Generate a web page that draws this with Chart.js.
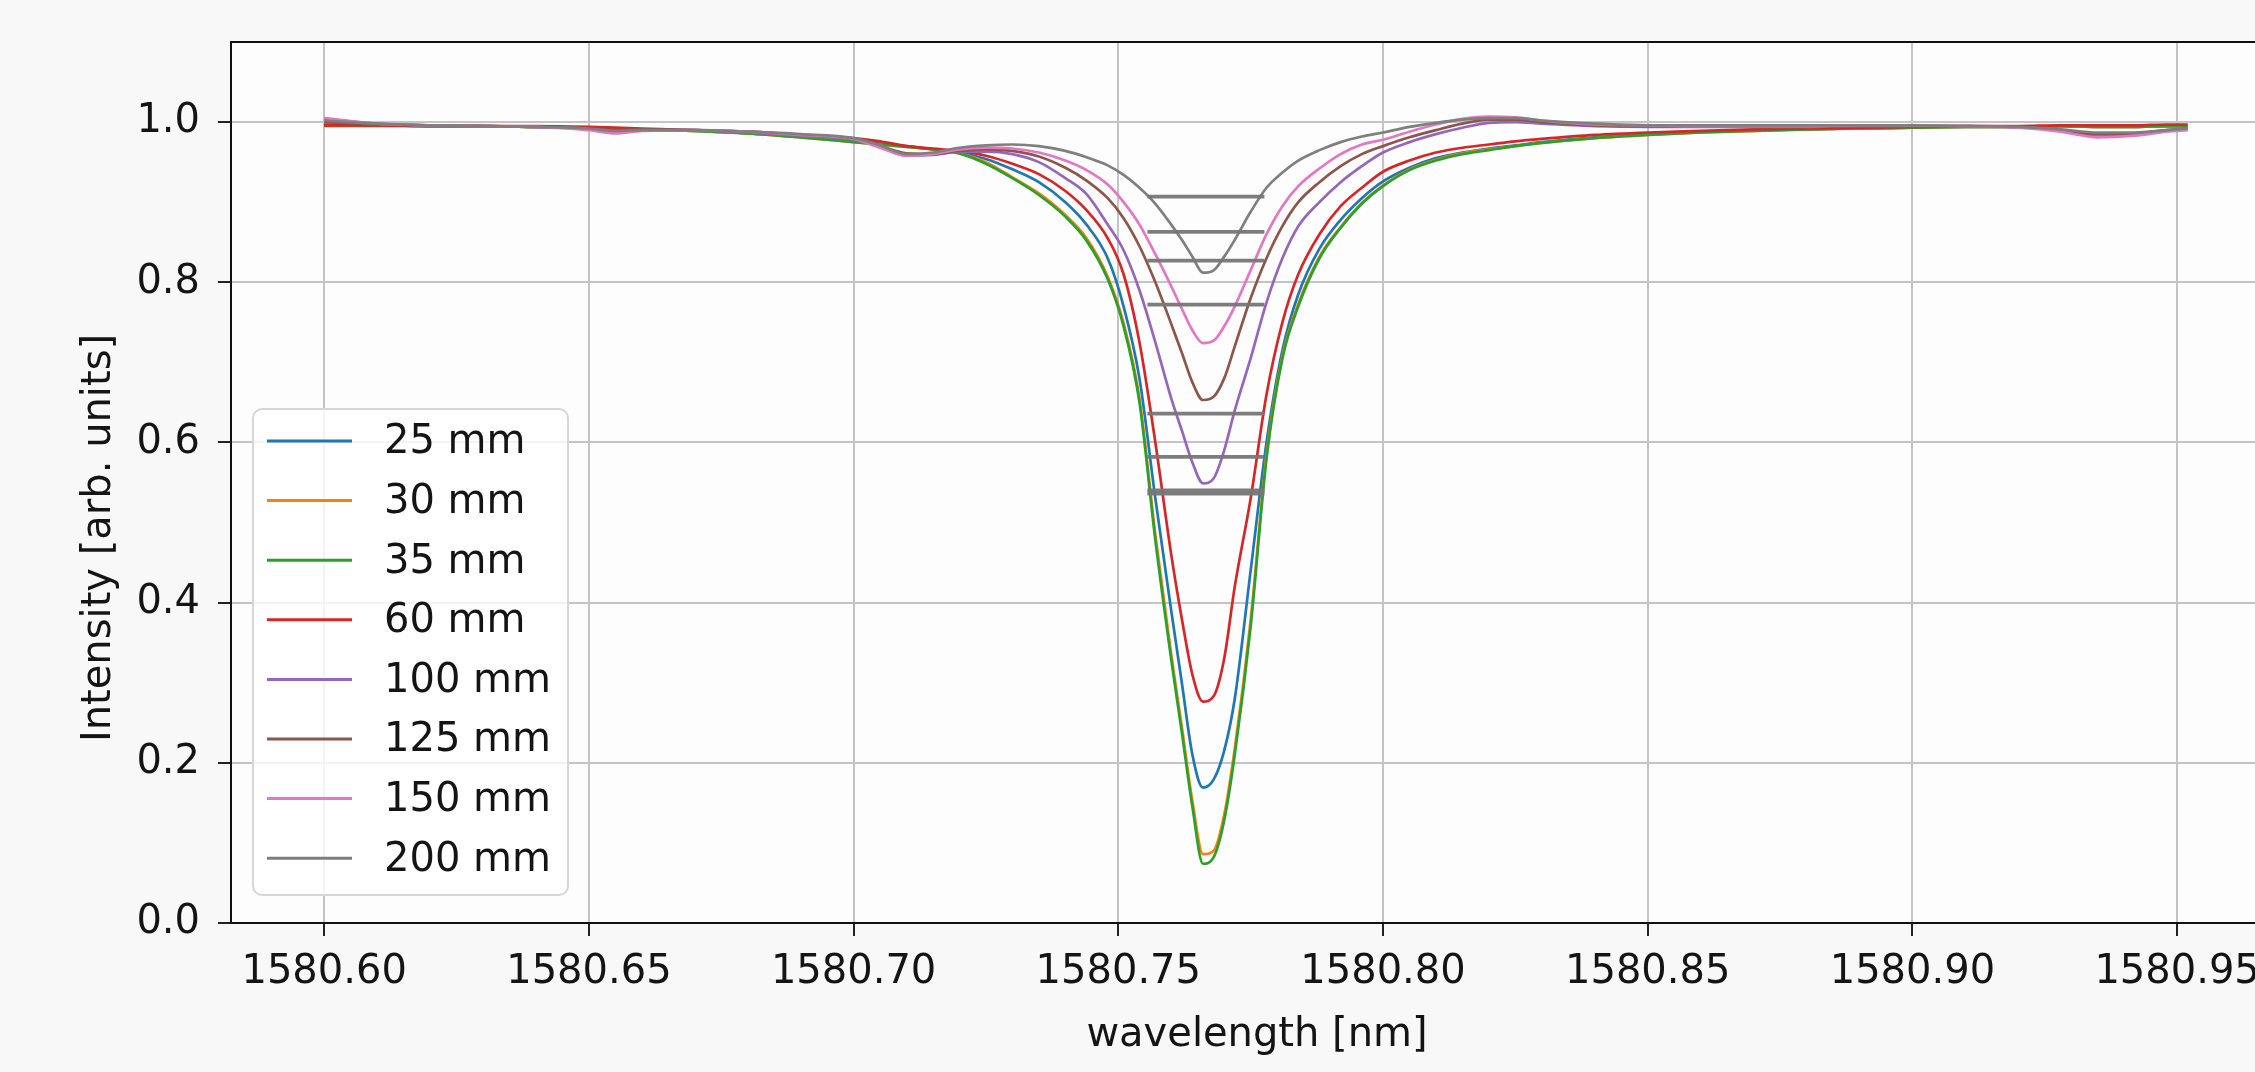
<!DOCTYPE html>
<html>
<head>
<meta charset="utf-8">
<script src="https://cdn.jsdelivr.net/npm/chart.js@4.4.1/dist/chart.umd.min.js"></script>
<style>
  html, body { margin: 0; padding: 0; background: #f8f8f8; overflow: hidden; width: 2255px; height: 1072px; }
  #wrap { position: absolute; left: 0; top: 0; }
</style>
</head>
<body>
<div id="wrap"><canvas id="c" width="2330" height="1072"></canvas></div>
<script>
// ---------- data ----------
const wavelength = [1580.600,1580.610,1580.620,1580.630,1580.640,1580.650,1580.655,1580.660,1580.670,1580.680,
  1580.690,1580.700,1580.705,1580.710,1580.715,1580.720,1580.725,1580.730,1580.735,1580.740,
  1580.744,1580.748,1580.751,1580.754,1580.757,1580.760,1580.762,1580.764,1580.766,1580.768,
  1580.770,1580.772,1580.775,1580.778,1580.781,1580.784,1580.788,1580.792,1580.796,1580.800,
  1580.805,1580.810,1580.815,1580.820,1580.825,1580.830,1580.840,1580.850,1580.860,1580.870,
  1580.880,1580.890,1580.900,1580.910,1580.920,1580.928,1580.935,1580.942,1580.948,1580.952];

const seriesLabels = ['25 mm','30 mm','35 mm','60 mm','100 mm','125 mm','150 mm','200 mm'];
const seriesColors = ['#1f77b4','#ff7f0e','#2ca02c','#d62728','#9467bd','#8c564b','#e377c2','#7f7f7f'];

const i25 = [0.997,0.996,0.996,0.995,0.994,0.993,0.992,0.991,0.989,0.986,
  0.982,0.976,0.973,0.970,0.966,0.962,0.954,0.941,0.925,0.900,
  0.872,0.830,0.770,0.680,0.530,0.390,0.300,0.210,0.169,0.179,
  0.215,0.280,0.440,0.600,0.715,0.785,0.842,0.878,0.905,0.926,
  0.943,0.955,0.962,0.967,0.971,0.975,0.981,0.985,0.988,0.990,
  0.991,0.992,0.993,0.994,0.994,0.995,0.994,0.994,0.995,0.995];
const i30 = [0.995,0.995,0.995,0.995,0.994,0.993,0.992,0.991,0.989,0.986,
  0.981,0.975,0.972,0.969,0.966,0.961,0.950,0.931,0.911,0.884,
  0.855,0.807,0.749,0.655,0.485,0.335,0.245,0.152,0.086,0.090,
  0.135,0.218,0.378,0.585,0.708,0.773,0.832,0.869,0.899,0.921,
  0.941,0.953,0.961,0.966,0.970,0.974,0.980,0.984,0.987,0.989,
  0.991,0.992,0.993,0.994,0.994,0.995,0.994,0.994,0.995,0.995];
const i35 = [0.996,0.996,0.995,0.995,0.994,0.993,0.992,0.991,0.989,0.986,
  0.981,0.975,0.972,0.969,0.966,0.961,0.948,0.930,0.909,0.882,
  0.852,0.804,0.745,0.650,0.478,0.329,0.238,0.145,0.074,0.082,
  0.128,0.210,0.370,0.580,0.705,0.770,0.830,0.868,0.898,0.920,
  0.940,0.952,0.960,0.965,0.970,0.974,0.980,0.984,0.987,0.989,
  0.991,0.992,0.993,0.994,0.994,0.995,0.994,0.994,0.995,0.995];
const i60 = [0.996,0.996,0.995,0.995,0.995,0.994,0.993,0.992,0.990,0.988,
  0.984,0.980,0.976,0.970,0.967,0.964,0.958,0.948,0.935,0.914,
  0.890,0.855,0.810,0.725,0.600,0.460,0.380,0.310,0.2765,0.283,
  0.330,0.420,0.530,0.660,0.750,0.810,0.860,0.895,0.918,0.938,
  0.952,0.962,0.968,0.972,0.976,0.979,0.984,0.987,0.989,0.991,
  0.992,0.993,0.994,0.995,0.995,0.996,0.996,0.996,0.997,0.997];
const i100 = [1.004,0.998,0.996,0.995,0.994,0.991,0.988,0.990,0.990,0.987,
  0.983,0.978,0.969,0.958,0.959,0.963,0.963,0.960,0.950,0.930,
  0.910,0.872,0.840,0.790,0.725,0.655,0.615,0.575,0.549,0.555,
  0.590,0.640,0.705,0.775,0.830,0.870,0.900,0.925,0.945,0.962,
  0.975,0.985,0.993,0.999,1.000,0.998,0.995,0.994,0.994,0.994,
  0.994,0.995,0.995,0.995,0.994,0.989,0.982,0.984,0.989,0.991];
const i125 = [1.000,0.997,0.996,0.995,0.994,0.992,0.990,0.991,0.990,0.988,
  0.984,0.979,0.970,0.961,0.960,0.964,0.966,0.964,0.957,0.943,
  0.927,0.905,0.880,0.845,0.800,0.748,0.712,0.675,0.653,0.657,
  0.680,0.720,0.780,0.830,0.870,0.900,0.925,0.945,0.960,0.970,
  0.981,0.990,0.998,1.003,1.003,1.000,0.996,0.995,0.995,0.995,
  0.995,0.995,0.995,0.995,0.994,0.990,0.985,0.986,0.990,0.992];
const i150 = [1.005,0.998,0.996,0.995,0.994,0.990,0.986,0.989,0.990,0.988,
  0.984,0.979,0.968,0.958,0.960,0.966,0.968,0.967,0.962,0.952,
  0.940,0.922,0.900,0.872,0.835,0.795,0.767,0.740,0.724,0.727,
  0.745,0.770,0.815,0.860,0.895,0.920,0.942,0.960,0.972,0.978,
  0.988,0.997,1.004,1.007,1.006,1.002,0.997,0.996,0.995,0.995,
  0.995,0.996,0.996,0.995,0.993,0.988,0.981,0.983,0.988,0.990];
const i200 = [1.002,0.998,0.996,0.995,0.994,0.992,0.989,0.990,0.990,0.988,
  0.985,0.980,0.971,0.960,0.962,0.968,0.971,0.972,0.970,0.964,
  0.956,0.946,0.934,0.918,0.898,0.872,0.853,0.832,0.812,0.815,
  0.832,0.853,0.888,0.918,0.937,0.952,0.965,0.975,0.982,0.987,
  0.994,0.999,1.003,1.005,1.005,1.002,0.998,0.996,0.996,0.996,
  0.996,0.996,0.996,0.995,0.994,0.991,0.987,0.987,0.990,0.992];

// half-maximum markers (level for each series) and their wavelength span
const halfMaxLevels = [0.582, 0.540, 0.536, 0.636, 0.772, 0.827, 0.863, 0.907];
const halfMaxSpan = [1580.7555, 1580.7776];

const xTicks = [1580.60,1580.65,1580.70,1580.75,1580.80,1580.85,1580.90,1580.95];
const yTicks = [0.0,0.2,0.4,0.6,0.8,1.0];
const xRange = [1580.5824, 1580.9700];
const yRange = [0.0, 1.1];
const xTitle = 'wavelength [nm]';
const yTitle = 'Intensity [arb. units]';

// ---------- chart ----------
const seriesValues = [i25,i30,i35,i60,i100,i125,i150,i200];
const FONT = '"DejaVu Sans", "Liberation Sans", sans-serif';
const TXT = '#141414';

const datasets = seriesValues.map((vals, k) => ({
  label: seriesLabels[k],
  data: wavelength.map((x, i) => ({x: x, y: vals[i]})),
  borderColor: seriesColors[k],
  backgroundColor: seriesColors[k],
  borderWidth: 2.7,
  pointRadius: 0,
  fill: false,
  cubicInterpolationMode: 'monotone',
  order: seriesValues.length - k
}));
halfMaxLevels.forEach((lv) => {
  datasets.push({
    label: '_hm',
    data: [{x: halfMaxSpan[0], y: lv}, {x: halfMaxSpan[1], y: lv}],
    borderColor: 'rgba(118,118,118,0.95)',
    borderWidth: 3.8,
    pointRadius: 0,
    fill: false,
    order: -1
  });
});

const frame = {
  id: 'frame',
  beforeDraw(chart) {
    const {ctx, chartArea: a} = chart;
    ctx.save();
    ctx.fillStyle = '#fdfdfd';
    ctx.fillRect(a.left, a.top, a.right - a.left, a.bottom - a.top);
    ctx.restore();
  },
  afterDraw(chart) {
    const {ctx, chartArea: a} = chart;
    ctx.save();
    ctx.strokeStyle = '#111';
    ctx.lineWidth = 2;
    ctx.strokeRect(a.left, a.top, a.right - a.left, a.bottom - a.top);
    // y axis title
    ctx.save();
    ctx.translate(100, 538);
    ctx.rotate(-Math.PI / 2);
    ctx.font = '40px ' + FONT;
    ctx.fillStyle = TXT;
    ctx.textAlign = 'center';
    ctx.textBaseline = 'middle';
    ctx.fillText(yTitle, 0, 0);
    ctx.restore();
    // legend
    const bx = 253, by = 409, bw = 315, bh = 486, r = 9;
    ctx.beginPath();
    ctx.moveTo(bx + r, by);
    ctx.arcTo(bx + bw, by, bx + bw, by + bh, r);
    ctx.arcTo(bx + bw, by + bh, bx, by + bh, r);
    ctx.arcTo(bx, by + bh, bx, by, r);
    ctx.arcTo(bx, by, bx + bw, by, r);
    ctx.closePath();
    ctx.fillStyle = 'rgba(255,255,255,0.8)';
    ctx.fill();
    ctx.strokeStyle = '#d6d6d6';
    ctx.lineWidth = 2;
    ctx.stroke();
    ctx.font = '40px ' + FONT;
    ctx.textBaseline = 'middle';
    ctx.textAlign = 'left';
    seriesLabels.forEach((lab, k) => {
      const y = 441 + k * 59.6;
      ctx.strokeStyle = seriesColors[k];
      ctx.lineWidth = 3;
      ctx.beginPath();
      ctx.moveTo(267, y);
      ctx.lineTo(352, y);
      ctx.stroke();
      ctx.fillStyle = TXT;
      ctx.fillText(lab, 384, y + 2);
    });
    ctx.restore();
  }
};

new Chart(document.getElementById('c').getContext('2d'), {
  type: 'line',
  data: {datasets},
  plugins: [frame],
  options: {
    responsive: false,
    animation: false,
    events: [],
    layout: {padding: {left: 0, right: 47, top: 36, bottom: 0}},
    plugins: {legend: {display: false}, tooltip: {enabled: false}},
    elements: {point: {radius: 0}, line: {borderJoinStyle: 'round', borderCapStyle: 'butt'}},
    scales: {
      x: {
        type: 'linear',
        min: xRange[0], max: xRange[1],
        afterBuildTicks: s => { s.ticks = xTicks.map(v => ({value: v})); },
        afterFit: s => { s.height = 149; },
        ticks: {
          color: TXT, font: {family: FONT, size: 40}, padding: 13,
          maxRotation: 0, autoSkip: false,
          callback: v => Number(v).toFixed(2)
        },
        grid: {color: '#c4c4c4', lineWidth: 2, tickLength: 13, tickColor: '#222', tickWidth: 2},
        border: {color: '#111', width: 2},
        title: {display: true, text: xTitle, color: TXT,
                font: {family: FONT, size: 40, lineHeight: 1.2}, padding: {top: 0, bottom: 12}}
      },
      y: {
        type: 'linear',
        min: yRange[0], max: yRange[1],
        afterBuildTicks: s => { s.ticks = yTicks.map(v => ({value: v})); },
        afterFit: s => { s.width = 231; },
        ticks: {
          color: TXT, font: {family: FONT, size: 40}, padding: 18,
          callback: v => Number(v).toFixed(1)
        },
        grid: {color: '#c4c4c4', lineWidth: 2, tickLength: 13, tickColor: '#222', tickWidth: 2},
        border: {color: '#111', width: 2},
        title: {display: false}
      }
    }
  }
});
</script>
</body>
</html>
